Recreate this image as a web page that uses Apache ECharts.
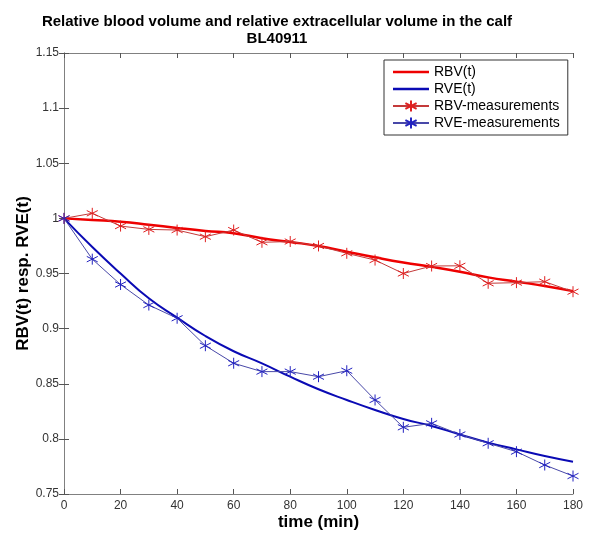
<!DOCTYPE html>
<html>
<head>
<meta charset="utf-8">
<script src="https://cdn.jsdelivr.net/npm/echarts@6/dist/echarts.min.js"></script>
<style>
  html, body { margin: 0; padding: 0; background: #fff; }
  #main { width: 600px; height: 534px; }
</style>
</head>
<body>
<div id="main"></div>
<script>
// time axis (min)
var times = [0, 10, 20, 30, 40, 50, 60, 70, 80, 90, 100, 110, 120, 130, 140, 150, 160, 170, 180];

// fitted curves, every 10 min
var rbvFit = [1.0, 0.9985, 0.997, 0.9943, 0.9913, 0.9886, 0.9865, 0.982, 0.9786, 0.975,
              0.9698, 0.9647, 0.960, 0.956, 0.9516, 0.9465, 0.9426, 0.9387, 0.934];
var rveFit = [1.0, 0.974, 0.950, 0.9275, 0.910, 0.8933, 0.8795, 0.8685, 0.8564, 0.845,
              0.8353, 0.8262, 0.818, 0.8117, 0.804, 0.7966, 0.7905, 0.7845, 0.7793];

// measurements
var rbvMeas = [1.0, 1.0046, 0.993, 0.990, 0.9894, 0.9834, 0.9894, 0.9783, 0.979, 0.975,
               0.9683, 0.9622, 0.950, 0.9568, 0.957, 0.9411, 0.9417, 0.9426, 0.9335];
var rveMeas = [1.0, 0.963, 0.940, 0.9214, 0.9094, 0.8845, 0.8686, 0.861, 0.861, 0.8564,
               0.8618, 0.8353, 0.8105, 0.8141, 0.804, 0.796, 0.7884, 0.7763, 0.7663];

var seriesNames = ['RBV(t)', 'RVE(t)', 'RBV-measurements', 'RVE-measurements'];

function pairs(vals) {
	return times.map(function(t, i) { return [t, vals[i]]; });
}

var star = 'path://M5,0L5,10M0.67,2.5L9.33,7.5M0.67,7.5L9.33,2.5';
var bar = 'path://M0,0H36V2.5H0Z';
var font = '"Liberation Sans", Arial, sans-serif';

var tickStyle = { inside: true, length: 5, lineStyle: { color: '#555' } };
var lineStyle = { lineStyle: { color: '#808080', width: 1 } };

var option = {
	backgroundColor: '#fff',
	animation: false,
	title: {
		text: 'Relative blood volume and relative extracellular volume in the calf\nBL40911',
		left: 272,
		top: 8,
		textAlign: 'center',
		textStyle: { fontFamily: font, fontSize: 15, fontWeight: 'bold', color: '#000', lineHeight: 17 }
	},
	legend: {
		orient: 'vertical',
		left: 384,
		top: 60,
		itemWidth: 36,
		itemHeight: 14,
		itemGap: 3,
		padding: [5, 8, 5, 8],
		borderColor: '#333',
		borderWidth: 1,
		backgroundColor: '#fff',
		textStyle: { fontFamily: font, fontSize: 14, color: '#000' },
		data: [
			{ name: seriesNames[0], icon: bar },
			{ name: seriesNames[1], icon: bar },
			seriesNames[2],
			seriesNames[3]
		]
	},
	grid: { left: 64, right: 27, top: 53, bottom: 40, outerBoundsMode: 'none' },
	xAxis: [{
		type: 'value',
		min: 0, max: 180, interval: 20,
		name: 'time (min)',
		nameLocation: 'middle',
		nameGap: 20,
		nameMoveOverlap: false,
		nameTextStyle: { fontFamily: font, fontSize: 17, fontWeight: 'bold', color: '#000' },
		axisLine: lineStyle,
		axisTick: tickStyle,
		axisLabel: { fontFamily: font, fontSize: 12, color: '#333', margin: 6 },
		splitLine: { show: false }
	}, {
		type: 'value', position: 'top',
		min: 0, max: 180, interval: 20,
		axisLine: lineStyle,
		axisTick: tickStyle,
		axisLabel: { show: false },
		splitLine: { show: false }
	}],
	yAxis: [{
		type: 'value',
		min: 0.75, max: 1.15, interval: 0.05,
		name: 'RBV(t) resp. RVE(t)',
		nameLocation: 'middle',
		nameGap: 32,
		nameMoveOverlap: false,
		nameTextStyle: { fontFamily: font, fontSize: 17, fontWeight: 'bold', color: '#000' },
		axisLine: lineStyle,
		axisTick: tickStyle,
		axisLabel: { fontFamily: font, fontSize: 12, color: '#333', margin: 5 },
		splitLine: { show: false }
	}, {
		type: 'value', position: 'right',
		min: 0.75, max: 1.15, interval: 0.05,
		axisLine: lineStyle,
		axisTick: tickStyle,
		axisLabel: { show: false },
		splitLine: { show: false }
	}],
	series: [{
		name: 'RBV(t)',
		type: 'line',
		data: pairs(rbvFit),
		smooth: true,
		showSymbol: false,
		symbol: 'none',
		lineStyle: { color: '#ee0000', width: 2.5 },
		itemStyle: { color: '#ee0000' }
	}, {
		name: 'RVE(t)',
		type: 'line',
		data: pairs(rveFit),
		smooth: true,
		showSymbol: false,
		symbol: 'none',
		lineStyle: { color: '#0a0ab4', width: 2 },
		itemStyle: { color: '#0a0ab4' }
	}, {
		name: 'RBV-measurements',
		type: 'line',
		data: pairs(rbvMeas),
		symbol: star,
		symbolSize: 11,
		clip: false,
		lineStyle: { color: '#c43a3a', width: 1 },
		itemStyle: { color: '#e02020', borderColor: '#e02020', borderWidth: 1 }
	}, {
		name: 'RVE-measurements',
		type: 'line',
		data: pairs(rveMeas),
		symbol: star,
		symbolSize: 11,
		clip: false,
		lineStyle: { color: '#4848a8', width: 1 },
		itemStyle: { color: '#2222c0', borderColor: '#2222c0', borderWidth: 1 }
	}]
};

var chart = echarts.init(document.getElementById('main'));
chart.setOption(option);
</script>
</body>
</html>
